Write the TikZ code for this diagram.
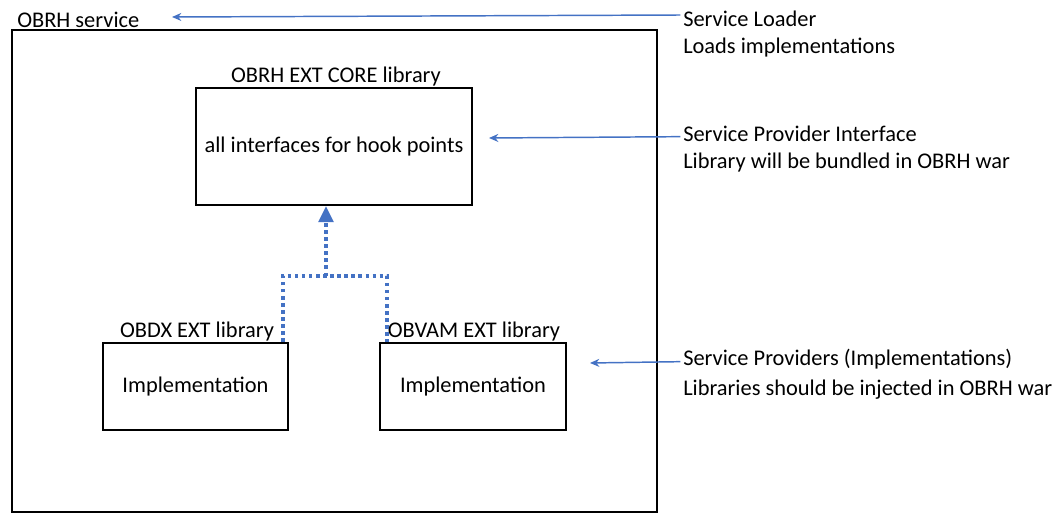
\documentclass[tikz,border=0pt]{standalone}
\usepackage{fontspec}
\setmainfont{Carlito}
\usetikzlibrary{arrows.meta}
\definecolor{LinkBlue}{HTML}{4472C4}

\begin{document}
\begin{tikzpicture}[x=0.75pt,y=-0.75pt,font=\fontsize{16.8}{20}\selectfont,
  box/.style={draw,line width=1.6pt,inner sep=0pt},
  note/.style={anchor=west,inner sep=0pt},
  pointer/.style={LinkBlue,line width=1.1pt,-{Stealth[length=7pt,width=6pt]}},
  dotline/.style={LinkBlue,line width=2.7pt,dash pattern=on 2.6pt off 2.7pt}]
  \useasboundingbox (0,0) rectangle (1064,514);
  % outer service and libraries
  \node[box,line width=1.9pt,minimum width=483.75pt,minimum height=361.5pt] (service) at (334.5,271) {};
  \node[note] (servicelbl) at (17,20) {OBRH service};
  \node[box,minimum width=207pt,minimum height=87.75pt] (core) at (334,146.5) {all interfaces for hook points};
  \node[inner sep=0pt] (corelbl) at (336,77) {OBRH EXT CORE library};
  \node[box,minimum width=138.75pt,minimum height=65.25pt] (obdx) at (195.5,386.5) {Implementation};
  \node[inner sep=0pt] (obdxlbl) at (197,332) {OBDX EXT library};
  \node[box,minimum width=139.5pt,minimum height=65.25pt] (obvam) at (473,386.5) {Implementation};
  \node[inner sep=0pt] (obvamlbl) at (474,332) {OBVAM EXT library};
  % notes on the right
  \node[note] (loader) at (683,19) {Service Loader};
  \node[note] (loaderdesc) at (683,48) {Loads implementations};
  \node[note] (spi) at (683,134) {Service Provider Interface};
  \node[note] (spidesc) at (683,163) {Library will be bundled in OBRH war};
  \node[note] (sp) at (683,359) {Service Providers (Implementations)};
  \node[note] (spdesc) at (683,390) {Libraries should be injected in OBRH war};
  \coordinate (servicetip) at (172,17);
  \coordinate (spitip) at (489,138);
  \coordinate (sptip) at (590,363);
  \draw[pointer] ([xshift=-2pt,yshift=3pt]loader.west) -- (servicetip);
  \draw[pointer] ([xshift=-2pt,yshift=-2pt]spi.west) -- (spitip);
  \draw[pointer] ([xshift=-2pt,yshift=-2pt]sp.west) -- (sptip);
  % implementations point to the core
  \coordinate (joint) at (326,276);
  \draw[dotline] ([xshift=-4.5pt]obdx.north east) |- (joint) -| ([xshift=6pt]obvam.north west);
  \draw[dotline,-{Triangle[length=12pt,width=11pt]}] (joint) -- ([xshift=-6pt]core.south);
\end{tikzpicture}
\end{document}
